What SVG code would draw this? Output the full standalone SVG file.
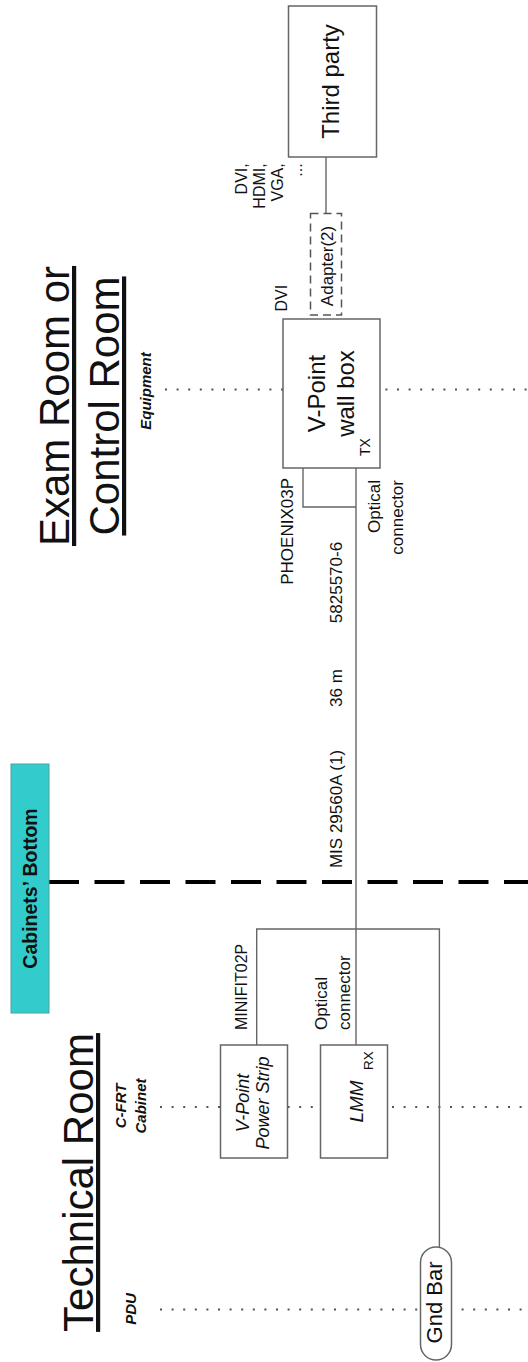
<svg xmlns="http://www.w3.org/2000/svg" width="528" height="1362" viewBox="0 0 528 1362">
<style>
text{font-family:"Liberation Sans",Arial,sans-serif;fill:#111}
.title{font-size:42px;text-decoration:underline}
.lbl{font-size:17px}
.sm{font-size:16px}
.tag{font-size:15px;font-weight:bold;font-style:italic}
.big{font-size:24px}
.box{fill:#fff;stroke:#666;stroke-width:1.5}
.wire{fill:none;stroke:#666;stroke-width:1.4}
.dot{fill:none;stroke:#555;stroke-width:2;stroke-dasharray:2 9.6}
</style>
<rect width="528" height="1362" fill="#fff"/>
<g id="titles">
<text class="title" transform="translate(69,406) rotate(-90)" text-anchor="middle">Exam Room or</text>
<text class="title" transform="translate(119,406) rotate(-90)" text-anchor="middle">Control Room</text>
<text class="title" transform="translate(93,1182.5) rotate(-90)" text-anchor="middle">Technical Room</text>
</g>
<g id="levels">
<line class="dot" x1="165" y1="389.5" x2="528" y2="389.5"/>
<line class="dot" x1="160" y1="1107" x2="528" y2="1107"/>
<line class="dot" x1="160" y1="1309.5" x2="528" y2="1309.5"/>
<text class="tag" transform="translate(151,391) rotate(-90)" text-anchor="middle">Equipment</text>
<text class="tag" transform="translate(0,1106) rotate(-90)" text-anchor="middle"><tspan x="0" y="126">C-FRT</tspan><tspan x="0" y="146">Cabinet</tspan></text>
<text class="tag" transform="translate(136,1309) rotate(-90)" text-anchor="middle">PDU</text>
</g>
<g id="connectors">
<line class="wire" x1="326" y1="157" x2="326" y2="213.5"/>
<path class="wire" d="M303,468 V507 H356"/>
<path class="wire" d="M356,468 V1045"/>
<path class="wire" d="M256.7,1045 V929 H439.4 V1247"/>
<path d="M49,882 H528" fill="none" stroke="#000" stroke-width="4" stroke-dasharray="30 15.5"/>
</g>
<g id="cabinets-bottom">
<rect x="11" y="764" width="38" height="249" fill="#33CCCC" stroke="#4f9f9f" stroke-width="1"/>
<text transform="translate(37,888.5) rotate(-90)" text-anchor="middle" style="font-size:19.5px;font-weight:bold">Cabinets’ Bottom</text>
</g>
<g id="third-party">
<rect class="box" x="288.5" y="6" width="88" height="151"/>
<text class="big" transform="translate(339,81.5) rotate(-90)" text-anchor="middle">Third party</text>
</g>
<g id="adapter">
<rect x="310.5" y="213.5" width="31" height="101.5" fill="#fff" stroke="#555" stroke-width="1.5" stroke-dasharray="8 5"/>
<text class="lbl" transform="translate(332.5,266) rotate(-90)" text-anchor="middle">Adapter(2)</text>
</g>
<g id="wall-box">
<rect class="box" x="283" y="319" width="97" height="149"/>
<text class="big" transform="translate(0,393.5) rotate(-90)" text-anchor="middle"><tspan x="0" y="325">V-Point</tspan><tspan x="0" y="354">wall box</tspan></text>
<text transform="translate(370,456) rotate(-90)" style="font-size:14px">TX</text>
</g>
<g id="power-strip">
<rect class="box" x="220.5" y="1045" width="67" height="113"/>
<text transform="translate(0,1103) rotate(-90)" text-anchor="middle" style="font-size:18px;font-style:italic"><tspan x="0" y="248.5">V-Point</tspan><tspan x="0" y="268.5">Power Strip</tspan></text>
</g>
<g id="lmm">
<rect class="box" x="320.5" y="1045" width="67" height="113"/>
<text transform="translate(363,1101.5) rotate(-90)" text-anchor="middle" style="font-size:19px;font-style:italic">LMM</text>
<text transform="translate(373,1070) rotate(-90)" style="font-size:13.5px">RX</text>
</g>
<g id="gnd-bar">
<rect class="box" x="420.5" y="1247" width="31" height="113" rx="15.5"/>
<text transform="translate(442,1302.5) rotate(-90)" text-anchor="middle" style="font-size:22px">Gnd Bar</text>
</g>
<g id="labels">
<text class="sm" transform="translate(0,163.3) rotate(-90)" text-anchor="end"><tspan x="0" y="246.5">DVI,</tspan><tspan x="0" y="264.5">HDMI,</tspan><tspan x="0" y="282.5">VGA,</tspan><tspan x="0" y="302">...</tspan></text>
<text class="sm" transform="translate(286.5,311.5) rotate(-90)">DVI</text>
<text class="lbl" transform="translate(293,478) rotate(-90)" text-anchor="end">PHOENIX03P</text>
<text class="lbl" transform="translate(0,480) rotate(-90)" text-anchor="end"><tspan x="0" y="380">Optical</tspan><tspan x="0" y="403">connector</tspan></text>
<text class="lbl" transform="translate(341.5,582.5) rotate(-90)" text-anchor="middle">5825570-6</text>
<text class="lbl" transform="translate(341.5,688) rotate(-90)" text-anchor="middle">36 m</text>
<text class="lbl" transform="translate(341.5,809) rotate(-90)" text-anchor="middle">MIS 29560A (1)</text>
<text class="sm" transform="translate(246.5,1030) rotate(-90)">MINIFIT02P</text>
<text class="lbl" transform="translate(0,1030) rotate(-90)"><tspan x="0" y="327">Optical</tspan><tspan x="0" y="350">connector</tspan></text>
</g>
</svg>
